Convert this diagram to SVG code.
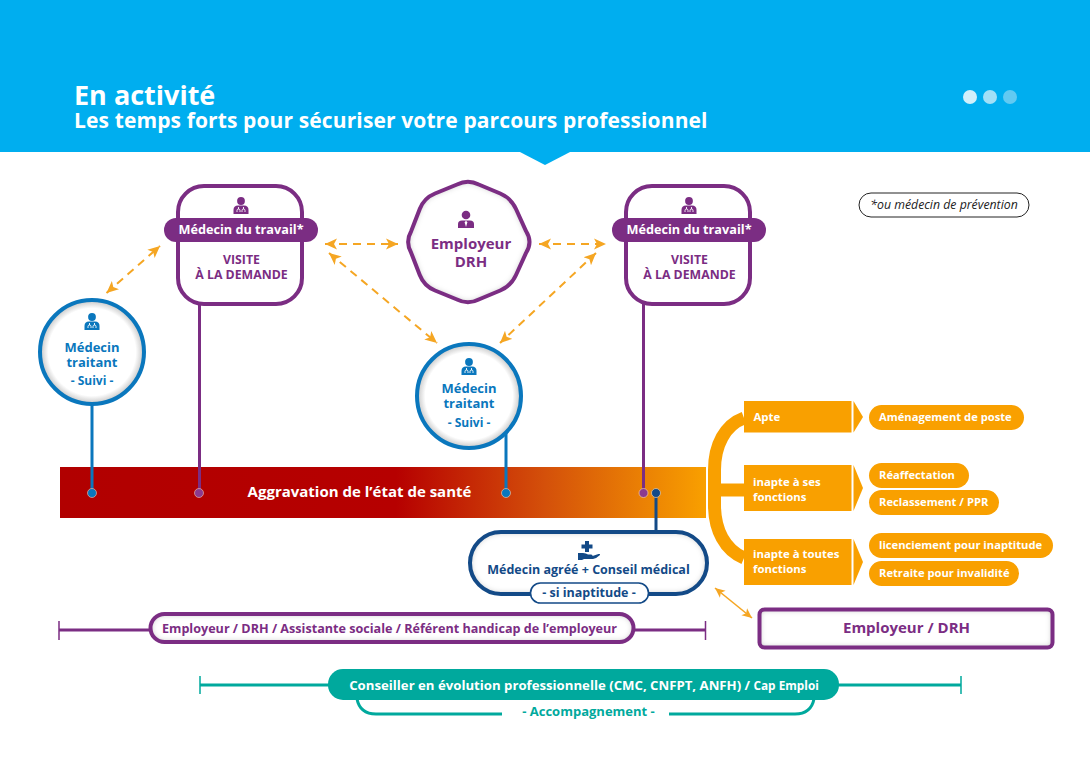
<svg xmlns="http://www.w3.org/2000/svg" width="1090" height="771" viewBox="0 0 1090 771">
<style>
text{font-family:"Open Sans","Noto Sans","DejaVu Sans",sans-serif;font-weight:700;text-anchor:middle}
.p{fill:#7b2d83}.b{fill:#0a77bd}.n{fill:#134a87}.o{fill:#f9a000}.t{fill:#00a99d}.w{fill:#fff}
.l{text-anchor:start}
.dash{fill:none;stroke:#f5a623;stroke-width:2;stroke-dasharray:8 6;marker-start:url(#ah);marker-end:url(#ah)}
.solid{fill:none;stroke:#f5a623;stroke-width:1.6;marker-start:url(#ah2);marker-end:url(#ah2)}
.lp{stroke:#7b2d83;stroke-width:3;fill:none}.lb{stroke:#0a77bd;stroke-width:3;fill:none}.ln{stroke:#134a87;stroke-width:3;fill:none}.lt{stroke:#00a99d;stroke-width:3;fill:none}
.card{fill:#fff;stroke:#7b2d83;stroke-width:4}
.circ{fill:url(#rg);stroke:#0a77bd;stroke-width:4}
.pill{fill:#f9a000}
.lab{font-size:11.2px;fill:#fff;text-anchor:start}
.lab2{font-size:11.4px;fill:#fff;text-anchor:start}
</style>
<defs>
<linearGradient id="bar" x1="0" x2="1" y1="0" y2="0"><stop offset="0" stop-color="#b10000"/><stop offset="0.52" stop-color="#b60000"/><stop offset="0.75" stop-color="#d4500a"/><stop offset="1" stop-color="#f9a000"/></linearGradient>
<radialGradient id="rg"><stop offset="0.84" stop-color="#fff"/><stop offset="0.97" stop-color="#cfcfcf"/></radialGradient>
<filter id="inner" x="-10%" y="-10%" width="120%" height="120%"><feGaussianBlur in="SourceAlpha" stdDeviation="3" result="b"/><feComposite in="SourceAlpha" in2="b" operator="out" result="c"/><feFlood flood-color="#777" flood-opacity=".8"/><feComposite in2="c" operator="in" result="s"/><feMerge><feMergeNode in="SourceGraphic"/><feMergeNode in="s"/></feMerge></filter>
<marker id="ah" markerUnits="userSpaceOnUse" markerWidth="14" markerHeight="12" refX="12" refY="6" orient="auto-start-reverse"><path d="M12,6 L0,0.5 L3,6 L0,11.5 Z" fill="#f5a623"/></marker>
<marker id="ah2" markerUnits="userSpaceOnUse" markerWidth="12" markerHeight="10" refX="10" refY="5" orient="auto-start-reverse"><path d="M10,5 L0,0.5 L2.5,5 L0,9.5 Z" fill="#f5a623"/></marker>
<g id="doc"><circle cx="0" cy="-6" r="3.9"/><path d="M-7.5,7 V3 Q-7.5,-1.5 -3,-1.5 H3 Q7.5,-1.5 7.5,3 V7 Z"/><path d="M-2.500,0 V2 M-4,5 V3.500 Q-4,2 -2.500,2 Q-1,2 -1,3.500 V5 M2.500,0 V2 M1,5 V3.500 Q1,2 2.500,2 Q4,2 4,3.500 V5" fill="none" stroke="#fff" stroke-width=".9"/></g>
<path id="oct" d="M478.750,184.500 L500.250,193.500 Q511,198 516,209 L526,231 Q533,242 526,253 L516,275 Q511,286 500.250,290.500 L478.750,299.500 Q468,305 457,299.500 L435,290.500 Q424,286 419.750,275 L411.250,253 Q405,242 411.250,231 L419.750,209 Q424,198 435,193.500 L457,184.500 Q468,179 478.750,184.500 Z"/>
</defs>
<rect width="1090" height="771" fill="#fff"/>
<g id="header">
<rect width="1090" height="152" fill="#00aeef"/>
<polygon points="518,151 572,151 545,165" fill="#00aeef"/>
<text class="w l" x="74" y="105" font-size="27">En activité</text>
<text class="w l" x="74" y="128" font-size="21" letter-spacing=".12">Les temps forts pour sécuriser votre parcours professionnel</text>
<circle cx="970" cy="97" r="7" fill="#d2f0fb"/><circle cx="990" cy="97" r="7" fill="#a3e0f7"/><circle cx="1010" cy="97" r="7" fill="#62caf2"/>
</g>
<g id="note"><rect x="859" y="193" width="170" height="24" rx="12" fill="#fff" stroke="#222" stroke-width="1"/><text x="944" y="209" font-size="12.3" style="font-weight:400;font-style:italic" fill="#222">*ou médecin de prévention</text></g>
<g id="severity-bar"><rect x="60" y="467" width="646" height="51" fill="url(#bar)"/><text class="w" x="359.500" y="497" font-size="15">Aggravation de l’état de santé</text></g>
<g id="connectors">
<path class="dash" d="M106.5,293 L160,246"/>
<path class="dash" d="M325,244 H398"/>
<path class="dash" d="M539,244 H606"/>
<path class="dash" d="M329,253 L437,343"/>
<path class="dash" d="M596,253 L500,343"/>
<path class="solid" d="M715,588 L752,618"/>
<path class="lb" d="M92,404 V493"/><path class="lp" d="M199.5,304 V493"/><path class="lb" d="M506,432 V493"/><path class="lp" d="M643.5,304 V493"/><path class="ln" d="M656,493 V532"/>
<circle cx="92" cy="493" r="4.5" fill="#0a77bd" stroke="#e8b0a0" stroke-width=".7"/>
<circle cx="199" cy="493" r="4.5" fill="#8b3a8f" stroke="#e8b0a0" stroke-width=".7"/>
<circle cx="506" cy="493" r="4.5" fill="#0a77bd" stroke="#f0c0a0" stroke-width=".7"/>
<circle cx="643.5" cy="493" r="4.5" fill="#8b3a8f" stroke="#f5d0a0" stroke-width=".7"/>
<circle cx="656" cy="493" r="4.5" fill="#134a87" stroke="#f5d0a0" stroke-width=".7"/>
<path d="M744,418 C725,425 714.5,445 714.5,470 V505 C714.5,530 725,550 744,558" fill="none" stroke="#f9a000" stroke-width="13"/>
<path d="M714,490 H745" stroke="#f9a000" stroke-width="13" fill="none"/>
<path class="lp" d="M59,630 H150 M633,630 H706" stroke-width="3"/><path d="M59,621 V640 M705.5,621 V640" stroke="#7b2d83" stroke-width="1.5" fill="none"/>
<path class="lt" d="M200,685 H330 M838,685 H961"/><path d="M200,676 V694 M961,676 V694" stroke="#00a99d" stroke-width="1.5" fill="none"/>
</g>
<g id="medecin-travail-1">
<rect class="card" x="178" y="186" width="124" height="118" rx="26"/>
<use href="#doc" x="241" y="207" fill="#7b2d83"/>
<rect x="164" y="218" width="154" height="24" rx="12" fill="#7b2d83"/>
<text class="w" x="241" y="234" font-size="12.700">Médecin du travail*</text>
<text class="p" x="241.500" y="264" font-size="12.300">VISITE</text><text class="p" x="241.500" y="278.500" font-size="12.300">À LA DEMANDE</text>
</g>
<g id="medecin-travail-2">
<rect class="card" x="626" y="186" width="124" height="118" rx="26"/>
<use href="#doc" x="689" y="207" fill="#7b2d83"/>
<rect x="612" y="218" width="154" height="24" rx="12" fill="#7b2d83"/>
<text class="w" x="689" y="234" font-size="12.700">Médecin du travail*</text>
<text class="p" x="689.500" y="264" font-size="12.300">VISITE</text><text class="p" x="689.500" y="278.500" font-size="12.300">À LA DEMANDE</text>
</g>
<g id="employeur">
<use href="#oct" fill="#fff" filter="url(#inner)"/>
<use href="#oct" fill="none" stroke="#7b2d83" stroke-width="4"/>
<circle cx="466" cy="215" r="4.300" fill="#7b2d83"/><path d="M458,228 V224 Q458,220.500 462,220.500 H470 Q474,220.500 474,224 V228 Z" fill="#7b2d83"/><path d="M466,220.500 L464.700,222.500 L466,227 L467.300,222.500 Z" fill="#fff"/>
<text class="p" x="471" y="249" font-size="15">Employeur</text><text class="p" x="471" y="267" font-size="15">DRH</text>
</g>
<g id="medecin-traitant-1">
<circle class="circ" cx="92" cy="352" r="52"/>
<use href="#doc" x="92" y="323" fill="#0a77bd"/>
<text class="b" x="92" y="352" font-size="13">Médecin</text><text class="b" x="92" y="367" font-size="13">traitant</text><text class="b" x="92" y="385" font-size="12">- Suivi -</text>
</g>
<g id="medecin-traitant-2">
<circle class="circ" cx="469" cy="396" r="52"/>
<use href="#doc" x="469" y="368" fill="#0a77bd"/>
<text class="b" x="469" y="393" font-size="13">Médecin</text><text class="b" x="469" y="408" font-size="13">traitant</text><text class="b" x="469" y="427" font-size="12">- Suivi -</text>
</g>
<g id="apte"><rect class="pill" x="744" y="401" width="107.500" height="31.500"/><polygon class="pill" points="853.500,401 863,417 853.500,432.500"/><text class="lab2" x="753.500" y="421">Apte</text></g>
<g id="inapte-ses"><rect class="pill" x="744" y="465" width="107.500" height="46"/><polygon class="pill" points="853.500,465 863,488 853.500,511"/><text class="lab2" x="753" y="486">inapte à ses</text><text class="lab2" x="753" y="501">fonctions</text></g>
<g id="inapte-toutes"><rect class="pill" x="744" y="539" width="107.500" height="46"/><polygon class="pill" points="853.500,539 863,562 853.500,585"/><text class="lab2" x="753" y="558">inapte à toutes</text><text class="lab2" x="753" y="573">fonctions</text></g>
<g id="amenagement"><rect class="pill" x="869" y="405" width="155" height="25" rx="12.500"/><text class="lab" x="879" y="421">Aménagement de poste</text></g>
<g id="reaffectation"><rect class="pill" x="869" y="463" width="100" height="25" rx="12.500"/><text class="lab" x="879" y="479">Réaffectation</text></g>
<g id="reclassement"><rect class="pill" x="869" y="490" width="130" height="25" rx="12.500"/><text class="lab" x="879" y="506">Reclassement / PPR</text></g>
<g id="licenciement"><rect class="pill" x="869" y="533" width="184" height="25" rx="12.500"/><text class="lab" x="879" y="549">licenciement pour inaptitude</text></g>
<g id="retraite"><rect class="pill" x="869" y="561" width="150" height="25" rx="12.500"/><text class="lab" x="879" y="577">Retraite pour invalidité</text></g>
<g id="employeur-drh"><rect x="759.500" y="609.500" width="293" height="38" rx="5" fill="#fff" filter="url(#inner)"/><rect x="759.500" y="609.500" width="293" height="38" rx="5" fill="none" stroke="#7b2d83" stroke-width="4"/><text class="p" x="906.500" y="633" font-size="15">Employeur / DRH</text></g>
<g id="medecin-agree">
<rect x="470" y="532" width="237" height="62" rx="31" fill="#fff" filter="url(#inner)"/><rect x="470" y="532" width="237" height="62" rx="31" fill="none" stroke="#134a87" stroke-width="4"/>
<path d="M585,541 h4 v3.500 h3.500 v4 h-3.500 v3.500 h-4 v-3.500 h-3.500 v-4 h3.500 Z" fill="#134a87"/><path d="M578,553 h5 q3,0 5,1.500 h3 q2,0 1.500,1.500 l6,-2 q2,-.5 1.500,1 q-3,3 -7,4 h-9 l-2,1 h-4 Z" fill="#134a87"/>
<text class="n" x="588.500" y="574" font-size="12.500">Médecin agréé + Conseil médical</text>
<rect x="530.500" y="583" width="118" height="20" rx="10" fill="#fff" stroke="#134a87" stroke-width="1.600"/>
<text class="n" x="589" y="597" font-size="12.500">- si inaptitude -</text>
</g>
<g id="employeur-band"><rect x="150.500" y="614" width="483" height="28" rx="14" fill="#fff" filter="url(#inner)"/><rect x="150.500" y="614" width="483" height="28" rx="14" fill="none" stroke="#7b2d83" stroke-width="4"/><text class="p" x="389.500" y="633" font-size="12.600">Employeur / DRH / Assistante sociale / Référent handicap de l’employeur</text></g>
<g id="conseiller"><path d="M357,699 Q360,714 376,714 H502 M669,714 H795 Q811,714 814,699" fill="none" stroke="#00a99d" stroke-width="3"/>
<rect x="328" y="669" width="511" height="31" rx="15" fill="#00a99d"/><text class="w" x="584" y="690" font-size="13.200">Conseiller en évolution professionnelle (CMC, CNFPT, ANFH) / <tspan font-size="11.800">Cap Emploi</tspan></text>
<text class="t" x="588.500" y="716" font-size="13">- Accompagnement -</text></g>
</svg>
